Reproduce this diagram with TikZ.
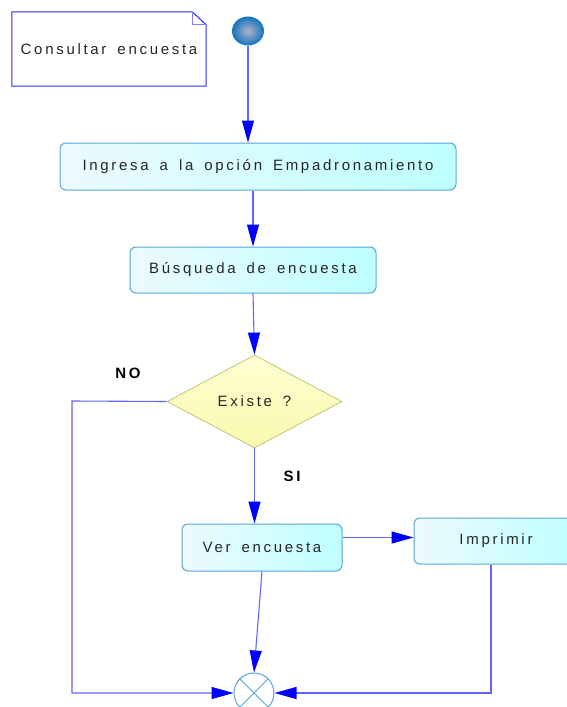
\documentclass[tikz,border=0pt]{standalone}
\usepackage{fontspec}
\setmainfont{Liberation Sans}
\newfontfamily\boxfont[LetterSpace=18,WordSpace=1.6]{Liberation Sans}
\usetikzlibrary{arrows.meta,shapes.geometric}
\definecolor{flowline}{RGB}{100,100,255}
\definecolor{flowtip}{RGB}{0,0,255}
\definecolor{boxedge}{RGB}{90,165,215}
\definecolor{boxlo}{RGB}{236,250,255}
\definecolor{boxhi}{RGB}{190,255,255}
\definecolor{diaedge}{RGB}{195,195,120}
\definecolor{dialo}{RGB}{255,255,210}
\definecolor{diahi}{RGB}{248,248,175}
\definecolor{ballin}{RGB}{175,180,200}
\definecolor{ballout}{RGB}{20,115,190}
\definecolor{notedge}{RGB}{40,40,255}

\begin{document}
\begin{tikzpicture}[x=1pt,y=-1pt,
   every node/.style={font=\boxfont\fontsize{15}{18}\selectfont,text=black!85},
   activity/.style={rectangle,rounded corners=6pt,draw=boxedge,line width=1pt,
      left color=boxlo,right color=boxhi,inner sep=0pt},
   decision/.style={diamond,draw=diaedge,line width=0.8pt,top color=dialo,bottom color=diahi,
      inner sep=0pt,minimum width=175pt,minimum height=93pt},
   guard/.style={font=\boxfont\bfseries\fontsize{15}{18}\selectfont,text=black},
   flow/.style={draw=flowline,line width=1.1pt,-{Triangle[length=22pt,width=12pt,color=flowtip]}}]
\useasboundingbox (0,0) rectangle (566,707);
% note
\node (note) at (109,49) [minimum width=194pt,minimum height=74pt,inner sep=0pt] {Consultar encuesta};
\draw[notedge,line width=1pt] (note.north west) -- ([xshift=-14pt]note.north east) -- ([yshift=-13pt]note.north east)
   -- (note.south east) -- (note.south west) -- cycle;
\draw[notedge!60,line width=0.8pt] ([xshift=-14pt]note.north east) -- ([xshift=-14pt,yshift=-13pt]note.north east)
   -- ([yshift=-13pt]note.north east);
% nodes
\node (start) at (248,31) [ellipse,minimum width=32pt,minimum height=29pt,inner sep=0pt,
   inner color=ballin,outer color=ballout] {};
\node (ingresa) at (258,166.5) [activity,minimum width=396pt,minimum height=47pt] {Ingresa a la opción Empadronamiento};
\node (busqueda) at (253,270) [activity,minimum width=246pt,minimum height=46pt] {Búsqueda de encuesta};
\node (existe) at (254.5,401.5) [decision] {Existe ?};
\node (ver) at (262,547.5) [activity,minimum width=160pt,minimum height=47pt] {Ver encuesta};
\node (imprimir) at (496,541) [activity,minimum width=164pt,minimum height=46pt] {Imprimir};
\node (fin) at (254,693) [circle,draw=boxedge,line width=1pt,fill=white,minimum size=40pt,inner sep=0pt] {};
\draw[boxedge,line width=0.8pt] (fin.north west) -- (fin.south east) (fin.north east) -- (fin.south west);
\node[guard] (no) at (128,373) {NO};
\node[guard] (si) at (292,476) {SI};
\coordinate (noturn) at (72,401);
% connectors
\draw[flow] (start) -- (ingresa.north -| start);
\draw[flow] (ingresa.south -| busqueda) -- (busqueda.north);
\draw[flow] (busqueda.south) -- (existe.north);
\draw[flow] (existe.south) -- (existe.south |- ver.north);
\draw[flow] ([yshift=10pt]ver.east) -- ([yshift=10pt]ver.east -| imprimir.west);
\draw[flow] (ver.south) -- (fin.north);
\draw[flow] ([xshift=-5pt]imprimir.south) |- (fin.east);
\draw[flow] (existe.west) -- (noturn) |- (fin.west);
\end{tikzpicture}
\end{document}
